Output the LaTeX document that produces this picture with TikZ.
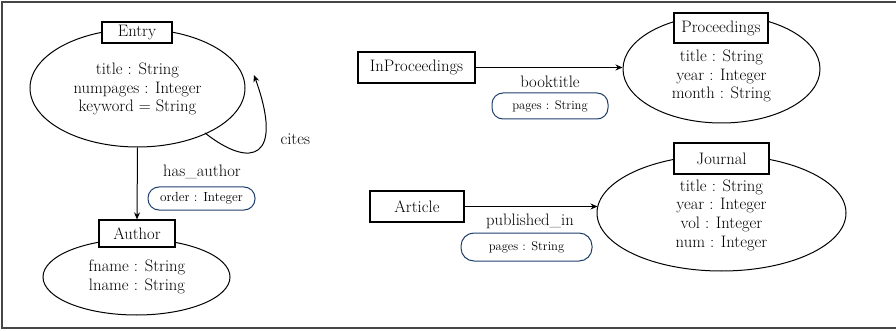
\documentclass[tikz,border=0pt]{standalone}
\usetikzlibrary{shapes.geometric,arrows.meta}
\definecolor{navy}{RGB}{31,63,107}
\definecolor{framegray}{RGB}{70,70,70}
\begin{document}
\begin{tikzpicture}[x=1pt,y=-1pt,
  every node/.style={font=\fontsize{16.6}{18.7}\selectfont},
  ell/.style={draw,ellipse,line width=1pt,inner sep=0pt},
  cls/.style={draw,fill=white,line width=1.2pt,inner sep=0pt},
  attr/.style={align=center,inner sep=0pt},
  prop/.style={draw=navy,line width=1pt,rounded corners=11pt,inner sep=0pt,
    font=\fontsize{12.6}{14}\selectfont},
  arr/.style={line width=1pt,-{Stealth[length=7pt,width=6pt]}}]
\useasboundingbox (0,0) rectangle (896,331);
\draw[framegray,line width=1.6pt] (2,2) rectangle (905,328);

% Entry
\node[ell,minimum width=215pt,minimum height=118pt] (entryE) at (137.5,88) {};
\node[cls,minimum width=70pt,minimum height=21pt] (entry) at (137,32.5) {Entry};
\node[attr] (entryT) at (137.5,89) {title : String\\numpages : Integer\\keyword = String};

% Author
\node[ell,minimum width=187pt,minimum height=76pt] (authorE) at (136.5,277) {};
\node[cls,minimum width=76pt,minimum height=27pt] (author) at (137,233.5) {Author};
\node[attr] (authorT) at (137,277) {fname : String\\lname : String};

\draw[arr] (entryE.south) -- (author.north);
\node (hasauthor) at (202,172) {has\_author};
\node[prop,minimum width=107pt,minimum height=23pt,font=\fontsize{13.2}{14}\selectfont] (order) at (201.5,198.5) {order : Integer};

% cites
\coordinate (citesA) at (205,133);
\coordinate (citesB) at (254,75);
\draw[arr] (citesA) .. controls (252,170) and (284,158) .. (citesB);
\node[anchor=west] (cites) at (277,139) {cites};

% Proceedings
\node[ell,minimum width=197pt,minimum height=108pt] (procE) at (721.5,69) {};
\node[cls,minimum width=94pt,minimum height=30pt] (proc) at (721,28) {Proceedings};
\node[attr] (procT) at (721.5,76) {title : String\\year : Integer\\month : String};

\node[cls,minimum width=117pt,minimum height=31pt] (inproc) at (416.5,67.5) {InProceedings};
\draw[arr] (inproc.east) -- (inproc.east -| procE.west);
\node (booktitle) at (550,82) {booktitle};
\node[prop,minimum width=116pt,minimum height=26pt] (pages1) at (550,106) {pages : String};

% Journal
\node[ell,minimum width=249pt,minimum height=116pt] (jourE) at (721.5,213) {};
\node[cls,minimum width=95pt,minimum height=31pt] (jour) at (721.5,158.5) {Journal};
\node[attr] (jourT) at (721.5,215) {title : String\\year : Integer\\vol : Integer\\num : Integer};

\node[cls,minimum width=94pt,minimum height=31pt] (article) at (417,206.5) {Article};
\draw[arr] (article.east) -- ([xshift=1pt]article.east -| jourE.west);
\node (pubin) at (530,221) {published\_in};
\node[prop,minimum width=131pt,minimum height=28pt,rounded corners=13pt] (pages2) at (526.5,247) {pages : String};
\end{tikzpicture}
\end{document}
